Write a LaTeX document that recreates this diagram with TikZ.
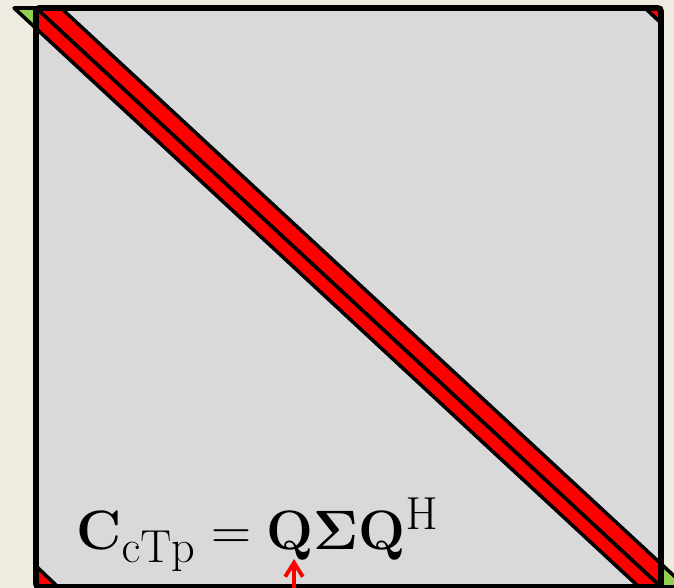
\documentclass[tikz,border=0pt]{standalone}
\usepackage{amsmath}
\usetikzlibrary{arrows.meta}

\definecolor{slidebg}{HTML}{EEECE1}
\definecolor{matgray}{HTML}{D9D9D9}
\definecolor{bandred}{HTML}{FF0000}
\definecolor{wrapgreen}{HTML}{92D050}

\begin{document}
\begin{tikzpicture}[x=0.02cm,y=-0.02cm,
    bandpart/.style={fill=bandred,draw=black,line width=2pt,line join=round},
    spill/.style={fill=wrapgreen,draw=black,line width=2pt,line join=round},
    marker/.style={draw=bandred,line width=2.2pt,-{Straight Barb[length=8pt,width=10pt]}}]
    \useasboundingbox (0,0) rectangle (674,588);
    \fill[slidebg] (0,0) rectangle (674,588);

    % Matrix
    \fill[matgray] (36,8) rectangle (661,587);

    % Diagonal band
    \begin{scope}
        \clip (36,8) rectangle (661,587);
        \draw[bandpart] (36,8) -- (61,8) -- (686,587) -- (661,587) -- cycle;
        \draw[bandpart] (36,8) -- (661,587) -- (639,587) -- (14,8) -- cycle;
    \end{scope}

    % Parts outside the matrix
    \draw[spill] (14,8) -- (36,8) -- (36,28.4) -- cycle;
    \begin{scope}
        \clip (0,0) rectangle (674,588);
        \draw[spill] (661,563.8) -- (661,587) -- (686,587) -- cycle;
    \end{scope}

    % Wrapped corners
    \draw[bandpart] (645,8) -- (661,8) -- (661,23) -- cycle;
    \draw[bandpart] (36,566) -- (36,587) -- (58,587) -- cycle;

    \draw[line width=3.4pt,rounded corners=2pt] (36,8) rectangle (661,587);

    % Decomposition
    \node[anchor=base west,inner sep=0pt,scale=1.27] (eq) at (76,550)
        {\Huge $\mathbf{C}_{\mathrm{cTp}} = \mathbf{Q\Sigma Q}^{\mathrm{H}}$};
    \coordinate (qtail) at (294,559);
    \coordinate (foot) at (294,594);
    \draw[marker] (foot) -- (qtail);
\end{tikzpicture}
\end{document}
